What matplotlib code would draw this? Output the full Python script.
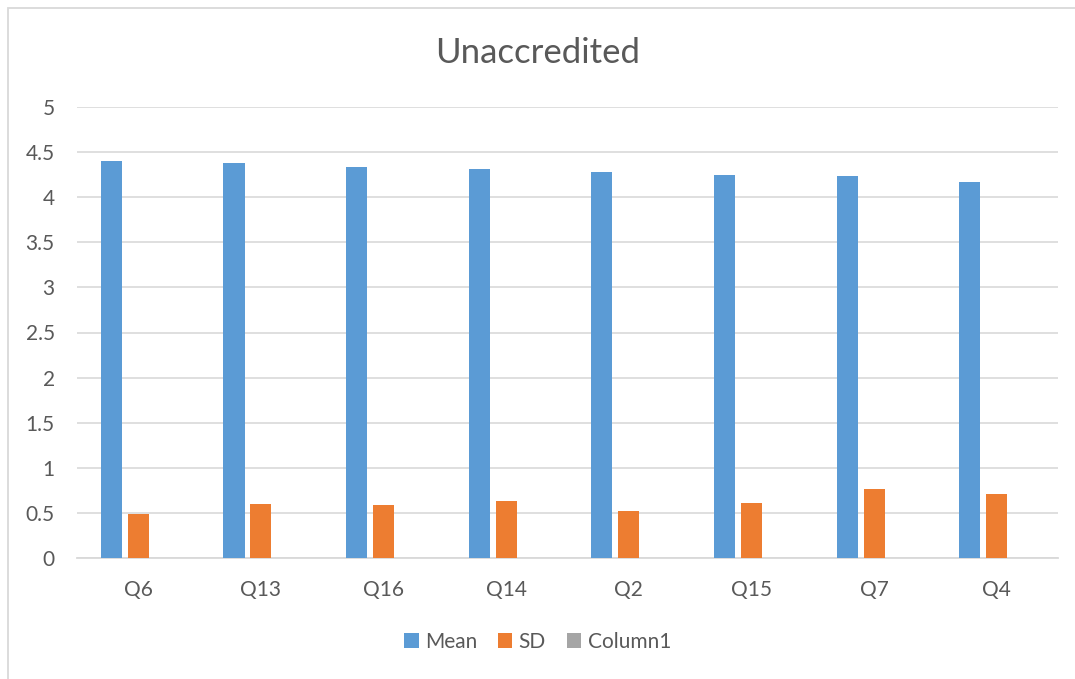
import numpy as np
import matplotlib
matplotlib.use("Agg")
import matplotlib.pyplot as plt
from matplotlib.patches import Rectangle

categories = ["Q6", "Q13", "Q16", "Q14", "Q2", "Q15", "Q7", "Q4"]
mean_vals = [4.40, 4.38, 4.34, 4.31, 4.28, 4.25, 4.24, 4.17]
sd_vals = [0.49, 0.60, 0.59, 0.63, 0.52, 0.61, 0.77, 0.71]
column1_vals = [np.nan] * len(categories)
y_ticks = [0, 0.5, 1, 1.5, 2, 2.5, 3, 3.5, 4, 4.5, 5]
y_tick_labels = ["0", "0.5", "1", "1.5", "2", "2.5", "3", "3.5", "4", "4.5", "5"]

plt.rcParams["font.family"] = ["Lato", "DejaVu Sans"]
text_color = "#595959"
grid_color = "#d9d9d9"

fig = plt.figure(figsize=(10.75, 6.79), dpi=100)
fig.patch.set_facecolor("white")

# light chart border (left and top edges visible)
fig.patches.append(Rectangle((8 / 1075, -0.1), 1.2, 1 - 8 / 679 + 0.1,
                             transform=fig.transFigure, fill=False,
                             edgecolor=grid_color, linewidth=1.3))

ax = fig.add_axes([77 / 1075, 1 - 558 / 679, (1058 - 77) / 1075, (558 - 107) / 679])

x = np.arange(len(categories))
width = 0.172
step = 0.22
series = [
    ("Mean", mean_vals, "#5b9bd5"),
    ("SD", sd_vals, "#ed7d31"),
    ("Column1", column1_vals, "#a5a5a5"),
]
for i, (name, vals, color) in enumerate(series):
    ax.bar(x + (i - 1) * step, vals, width, color=color, label=name, zorder=3)

ax.set_xlim(-0.5, len(categories) - 0.5)
ax.set_ylim(0, 5)
ax.set_yticks(y_ticks)
ax.set_yticklabels(y_tick_labels)
ax.set_xticks(x)
ax.set_xticklabels(categories)
ax.yaxis.grid(True, color=grid_color, linewidth=1.2, zorder=0)
ax.tick_params(axis="both", length=0, labelsize=15, colors=text_color)
ax.tick_params(axis="y", pad=16)
ax.tick_params(axis="x", pad=16)
for side in ["top", "right", "left"]:
    ax.spines[side].set_visible(False)
ax.spines["bottom"].set_color(grid_color)
ax.spines["bottom"].set_linewidth(1.3)

fig.text(0.5, 1 - 53 / 679, "Unaccredited", ha="center", va="center",
         fontsize=25, color=text_color)

handles, labels = ax.get_legend_handles_labels()
fig.legend(handles, labels, loc="center", bbox_to_anchor=(0.5, 1 - 642 / 679),
           ncol=3, frameon=False, fontsize=15, labelcolor=text_color,
           handlelength=0.7, handleheight=0.7, handletextpad=0.3,
           columnspacing=1.0)

fig.savefig("out.png", dpi=100)
